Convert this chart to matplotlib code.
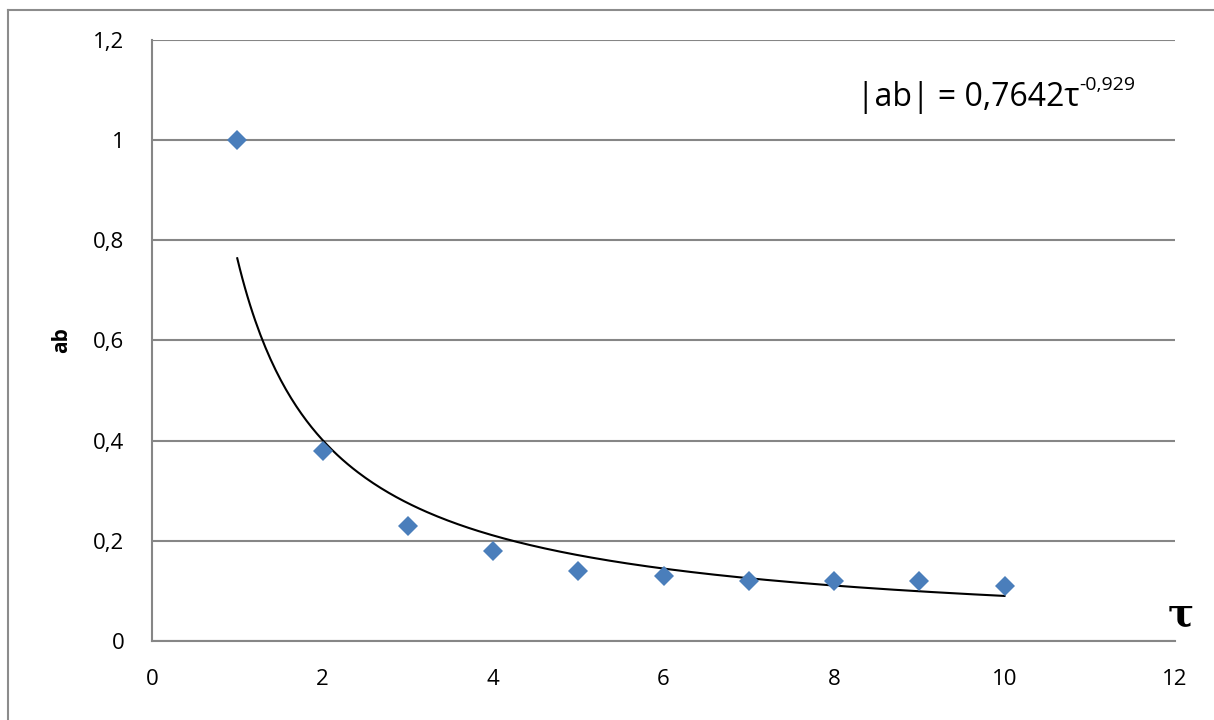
import numpy as np
import matplotlib
matplotlib.use("Agg")
import matplotlib.pyplot as plt
from matplotlib.lines import Line2D

tau = [1, 2, 3, 4, 5, 6, 7, 8, 9, 10]
ab = [1.0, 0.38, 0.23, 0.18, 0.14, 0.13, 0.12, 0.12, 0.12, 0.11]
fit_a = 0.7642
fit_b = -0.929
xticks = [0, 2, 4, 6, 8, 10, 12]
yticks = [0, 0.2, 0.4, 0.6, 0.8, 1.0, 1.2]
yticklabels = ["0", "0,2", "0,4", "0,6", "0,8", "1", "1,2"]

plt.rcParams['font.family'] = ['Open Sans', 'DejaVu Sans']

fig = plt.figure(figsize=(12.14, 7.2), dpi=100)
W, H = 1214, 720
# outer chart frame (top and left edges visible)
fig.lines.append(Line2D([8 / W, 8 / W], [0, 1 - 10 / H], transform=fig.transFigure,
                        color='#8c8c8c', linewidth=1.5))
fig.lines.append(Line2D([8 / W, 1], [1 - 10 / H, 1 - 10 / H], transform=fig.transFigure,
                        color='#8c8c8c', linewidth=1.5))

ax = fig.add_axes([152 / W, 1 - 641 / H, (1175 - 152) / W, (641 - 40) / H])
ax.set_xlim(0, 12)
ax.set_ylim(0, 1.2)
ax.set_xticks(xticks)
ax.set_xticklabels([str(v) for v in xticks])
ax.set_yticks(yticks)
ax.set_yticklabels(yticklabels)
ax.tick_params(length=0, labelsize=16, colors='black')
ax.tick_params(axis='y', pad=20)
ax.tick_params(axis='x', pad=20)
for s in ['top', 'right']:
    ax.spines[s].set_visible(False)
for s in ['left', 'bottom']:
    ax.spines[s].set_color('#868686')
    ax.spines[s].set_linewidth(1.5)
ax.yaxis.grid(True, color='#868686', linewidth=1.5)
ax.set_axisbelow(True)

xf = np.linspace(tau[0], tau[-1], 300)
ax.plot(xf, fit_a * xf ** fit_b, color='black', linewidth=1.5, zorder=3)
ax.plot(tau, ab, linestyle='none', marker='D', markersize=10, color='#4a7ebb',
        markeredgewidth=0, zorder=4)

fig.text(62 / W, 1 - 340 / H, 'ab', fontsize=15, fontweight='bold', rotation=90,
         ha='center', va='center')
t = fig.text(857 / W, 1 - 106 / H, '|ab| = 0,7642τ', fontsize=23,
             ha='left', va='baseline')
fig.canvas.draw()
bb = t.get_window_extent()
fig.text(bb.x1 / W, 1 - 90 / H, '-0,929', fontsize=14, ha='left', va='baseline')
fig.text(1181 / W, 1 - 615 / H, 'τ', fontsize=28, family='DejaVu Serif', fontweight='bold',
         ha='center', va='center')

fig.savefig('out.png', dpi=100)
